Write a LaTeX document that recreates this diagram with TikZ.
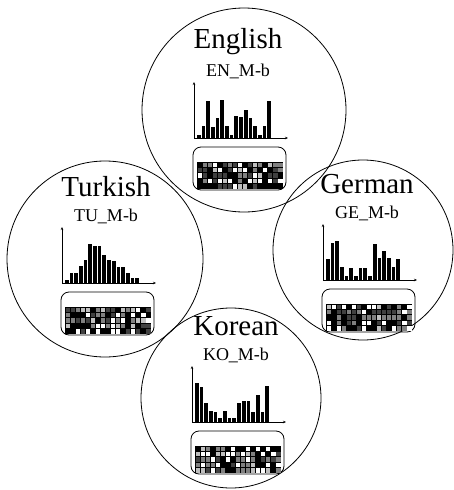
\documentclass[tikz,border=0pt]{standalone}
\usepackage{fontspec}
\setmainfont{Liberation Serif}
\usepackage{tikz}
\usetikzlibrary{arrows.meta,positioning}

\tikzset{
  langcircle/.style={draw, circle, inner sep=0pt, line width=0.8pt},
  langtitle/.style={inner sep=0pt, font=\fontsize{29}{32}\selectfont},
  langsub/.style={inner sep=0pt, font=\fontsize{18}{20}\selectfont},
  axis/.style={-{Stealth[length=3pt,width=2.5pt]}, line width=0.5pt},
  histbar/.style={fill=black, draw=white, line width=0.3pt},
  matbox/.style={draw, rounded corners=8pt, line width=0.8pt, minimum width=93pt, minimum height=43pt, inner sep=0pt}
}

% one language: name, origin x, origin y, title, code, bar heights, seed
\newcommand{\langpanel}[7]{%
  \begin{scope}[shift={(#2,#3)}]
    \node[langtitle] (#1-t) at (44,-96) {#4};
    \node[langsub] (#1-s) at (44,-67) {#5};
    \coordinate (#1-o) at (0,0);
    \coordinate (#1-y) at (0,-56);
    \coordinate (#1-x) at (94,0);
    \foreach \h [count=\i] in {#6}
      \fill[histbar] ({2+4.7*(\i-1)},0) rectangle ++(4.7,-\h);
    \draw[axis] (#1-o) -- (#1-y);
    \draw[axis] (#1-o) -- (#1-x);
    \node[matbox] (#1-m) at (45.5,30.5) {};
    \fill[black] (3,24) rectangle (89,51);
    \pgfmathsetseed{#7}
    \foreach \c in {0,...,16}
      \foreach \r in {0,...,4} {
        \pgfmathrandominteger{\k}{0}{9}
        \pgfmathtruncatemacro{\shade}{{100,100,100,75,75,50,50,25,0,0}[\k]}
        \fill[black!\shade] ({3.5+5.06*\c},{24.5+5.4*\r}) rectangle ++(4.1,4.4);
      }
  \end{scope}
}

\begin{document}
\begin{tikzpicture}[x=1pt, y=-1pt]
  \useasboundingbox (0,0) rectangle (454,490);

  \node[langcircle, minimum size=204pt] (en) at (244,110) {};
  \node[langcircle, minimum size=196pt] (tu) at (105,259) {};
  \node[langcircle, minimum size=180pt] (ge) at (363,250) {};
  \node[langcircle, minimum size=180pt] (ko) at (231,398) {};

  \langpanel{EN}{194}{138}{English}{EN\_M-b}{4,13,38,12,21,39,13,4,23,22,29,21,13,4,13,38}{11}
  \langpanel{TU}{62}{283}{Turkish}{TU\_M-b}{4,11,11,18,24,40,38,38,29,24,23,17,17,11,6,6}{23}
  \langpanel{GE}{323}{280}{German}{GE\_M-b}{22,38,40,14,5,13,5,13,13,5,37,23,30,23,14,22}{37}
  \langpanel{KO}{192}{422}{Korean}{KO\_M-b}{40,36,20,12,11,5,12,5,5,20,22,22,11,28,11,37}{41}
\end{tikzpicture}
\end{document}
